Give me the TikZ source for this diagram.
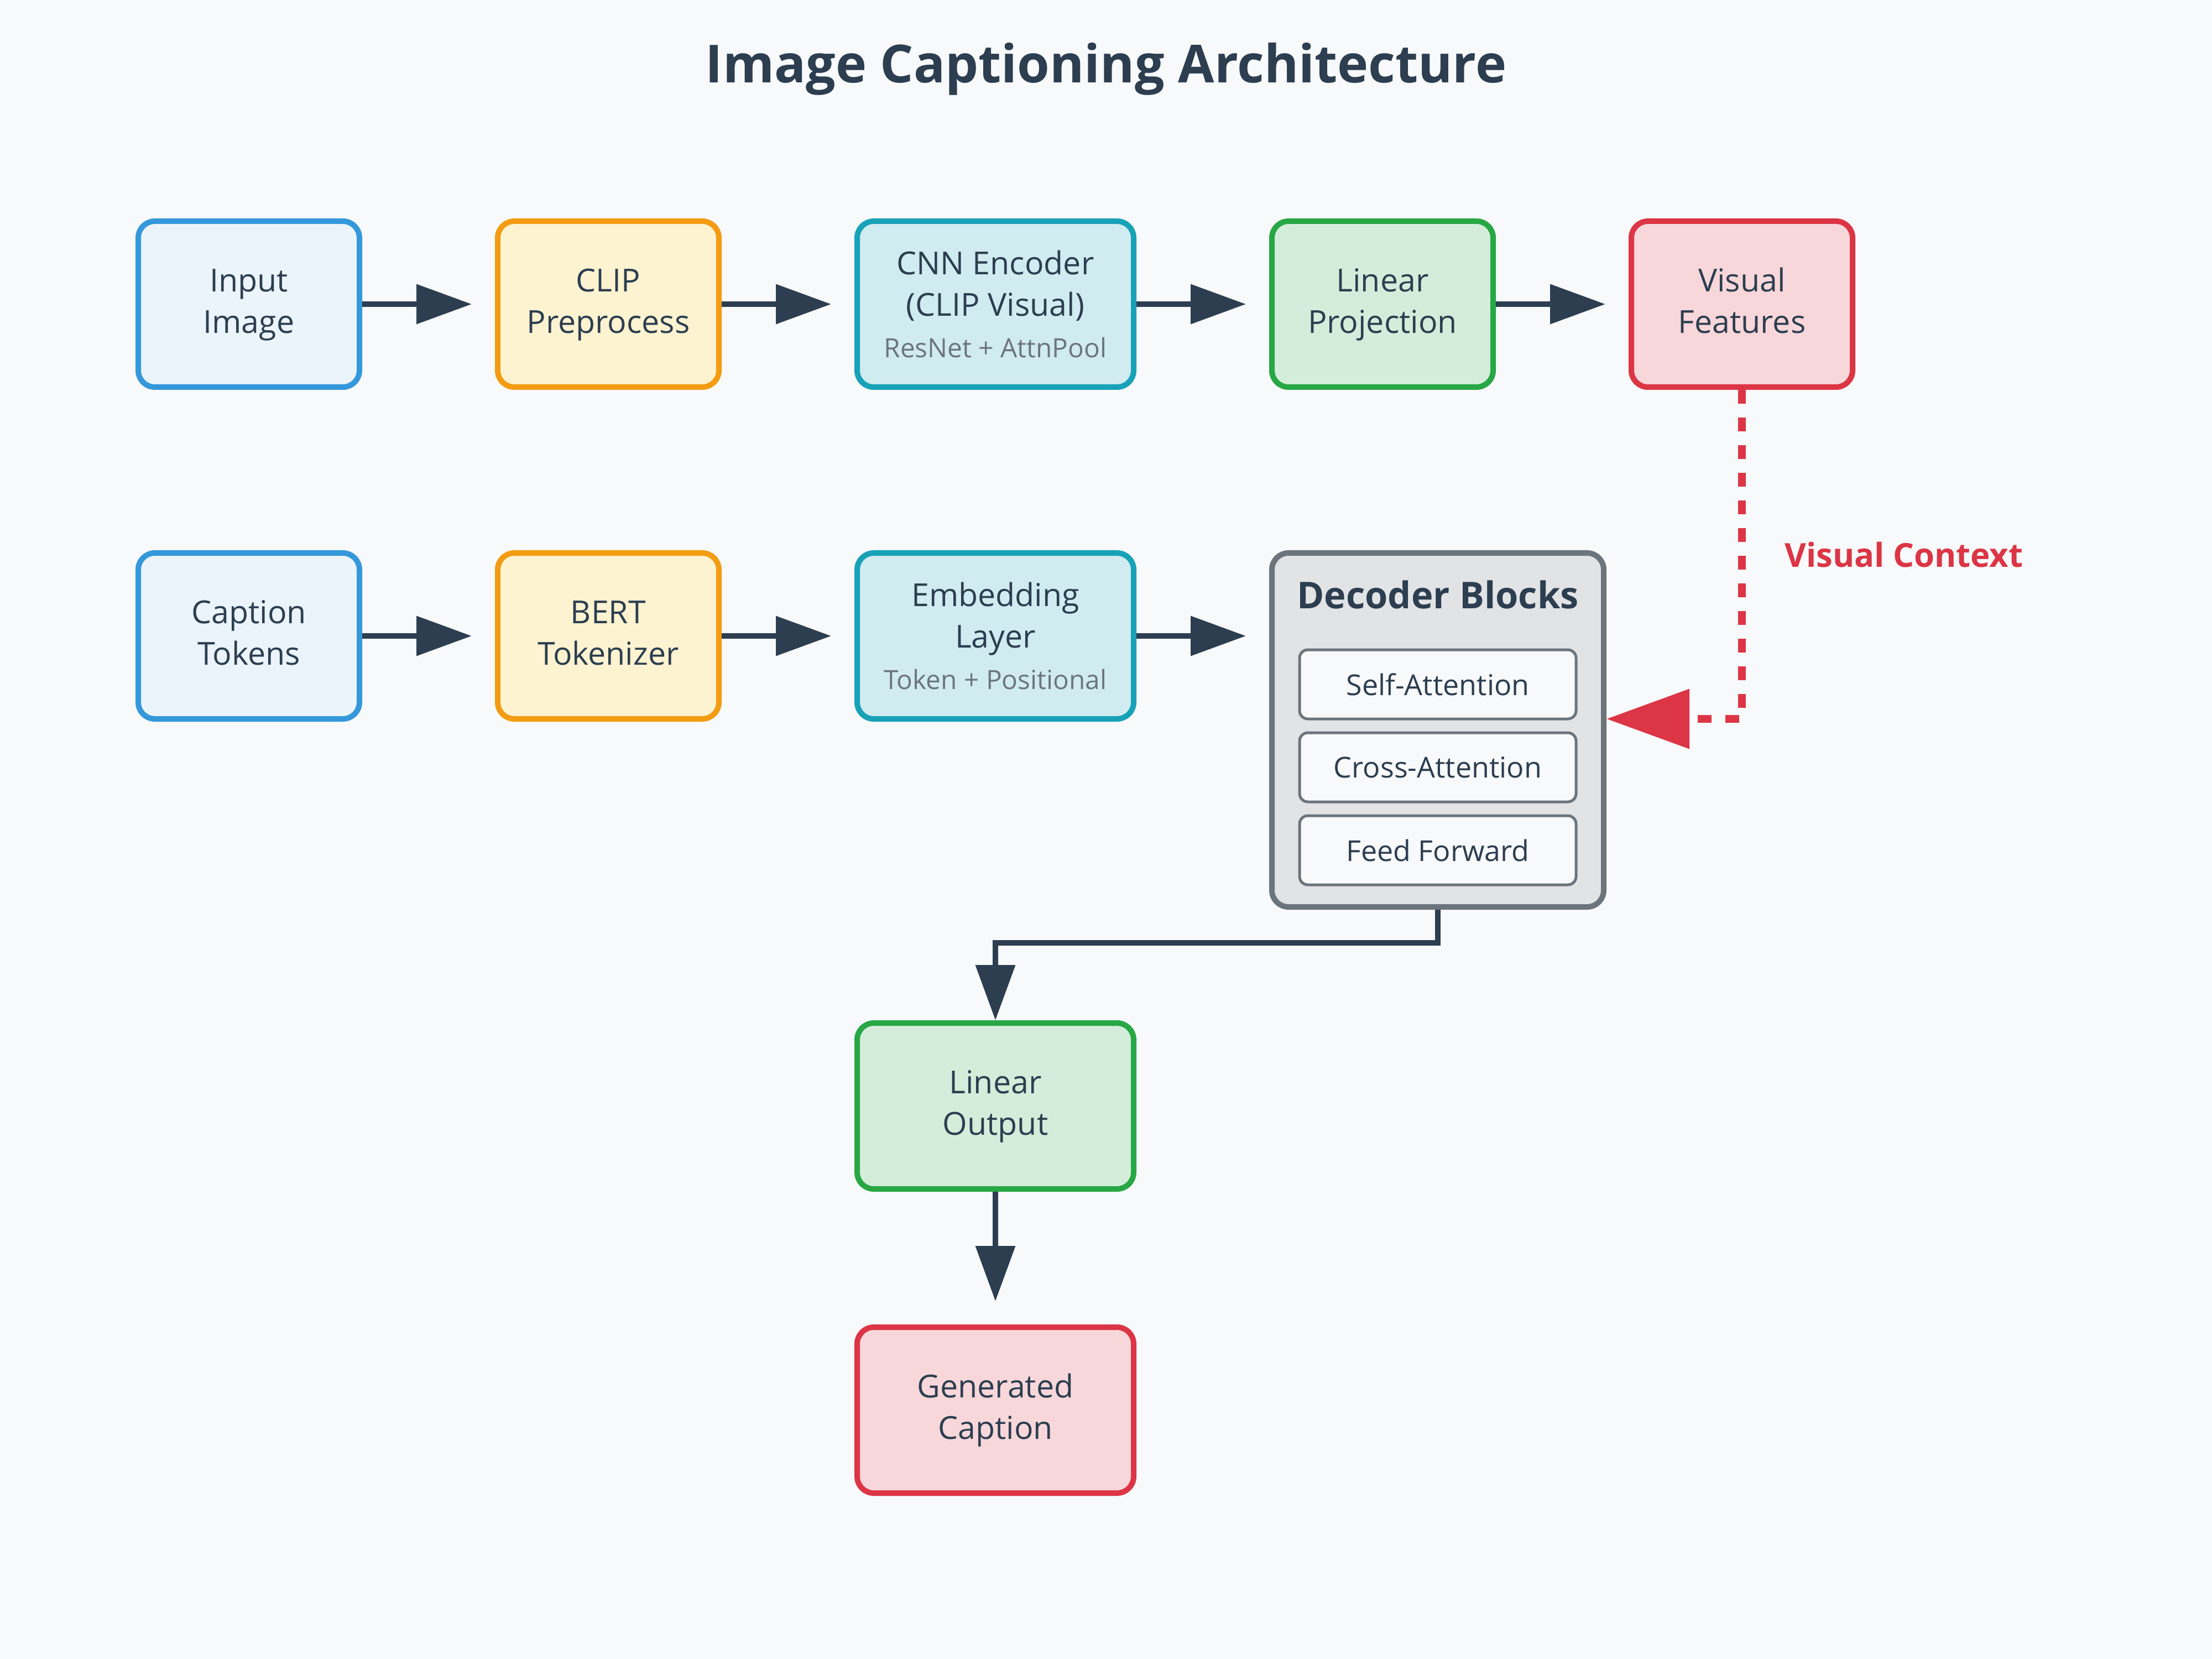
\documentclass[tikz,border=0pt]{standalone}
\usepackage{fontspec}
\setmainfont{Open Sans}
\usetikzlibrary{arrows.meta}
\definecolor{bg}{HTML}{F8F9FA}
\definecolor{txt}{HTML}{2C3E50}
\definecolor{subtxt}{HTML}{6C757D}
\definecolor{blueS}{HTML}{3498DB}\definecolor{blueF}{HTML}{EAF4FA}
\definecolor{orS}{HTML}{F39C12}\definecolor{orF}{HTML}{FEF3D0}
\definecolor{teS}{HTML}{17A2B8}\definecolor{teF}{HTML}{D1ECF1}
\definecolor{grS}{HTML}{28A745}\definecolor{grF}{HTML}{D4EDDA}
\definecolor{reS}{HTML}{DC3545}\definecolor{reF}{HTML}{F8D7DA}
\definecolor{gyS}{HTML}{6C757D}\definecolor{gyF}{HTML}{E2E3E5}
\newcommand\fmainsz{\fontsize{16.3pt}{21.34pt}\selectfont}
\newcommand\fsubsz{\fontsize{13.6pt}{20.8pt}\selectfont}
\newcommand\twoln[2]{\strut#1\\#2\strut}
\tikzset{
  box/.style={draw, rounded corners=0.3cm, line width=0.1cm, minimum width=4cm,
    minimum height=3cm, inner sep=0pt, align=center, text=txt, font=\fmainsz},
  wide/.style={minimum width=5cm},
  bluebox/.style={box, draw=blueS, fill=blueF},
  orbox/.style={box, draw=orS, fill=orF},
  tebox/.style={box, wide, draw=teS, fill=teF},
  grbox/.style={box, draw=grS, fill=grF},
  rebox/.style={box, draw=reS, fill=reF},
  inner/.style={draw=gyS, fill=bg, line width=0.05cm, rounded corners=0.15cm,
    minimum width=5cm, minimum height=1.25cm, inner sep=0pt, text=txt,
    font=\fontsize{14.8pt}{18pt}\selectfont},
  arr/.style={draw=txt, line width=0.1cm, -{Triangle[length=1cm,width=0.7cm]}},
  gap/.style={shorten >=0.42cm},
  ctxarr/.style={draw=reS, line width=0.14cm, dash pattern=on 0.25cm off 0.25cm,
    -{Triangle[length=1.5cm,width=1.05cm]}}
}
\begin{document}
\begin{tikzpicture}
\useasboundingbox (0,0) rectangle (40,-30);
\fill[bg] (0,0) rectangle (40,-30);
\node[anchor=base, text=txt, font=\fontsize{27pt}{32pt}\selectfont\bfseries] (title) at (20,-1.5) {Image Captioning Architecture};
% row 1
\node[bluebox] (inimg) at (4.5,-5.5) {\twoln{Input}{Image}};
\node[orbox] (clip) at (11,-5.5) {\twoln{CLIP}{Preprocess}};
\node[tebox] (cnn) at (18,-5.5) {CNN Encoder\\(CLIP Visual)\\{\fsubsz\color{subtxt}ResNet + AttnPool}};
\node[grbox] (linproj) at (25,-5.5) {\twoln{Linear}{Projection}};
\node[rebox] (visf) at (31.5,-5.5) {\twoln{Visual}{Features}};
% row 2
\node[bluebox] (captok) at (4.5,-11.5) {\twoln{Caption}{Tokens}};
\node[orbox] (bert) at (11,-11.5) {\twoln{BERT}{Tokenizer}};
\node[tebox] (emb) at (18,-11.5) {Embedding\\Layer\\{\fsubsz\color{subtxt}Token + Positional}};
\node[box, draw=gyS, fill=gyF, minimum width=6cm, minimum height=6.4cm] (dec) at (26,-13.2) {};
\node[anchor=base, text=txt, font=\fontsize{19pt}{22pt}\selectfont\bfseries] (dectitle) at (26,-11) {Decoder Blocks};
\node[inner] (selfatt) at (26,-12.375) {Self-Attention};
\node[inner] (crossatt) at (26,-13.875) {Cross-Attention};
\node[inner] (ffwd) at (26,-15.375) {Feed Forward};
% output
\node[grbox, wide] (linout) at (18,-20) {\twoln{Linear}{Output}};
\node[rebox, wide] (gencap) at (18,-25.5) {\twoln{Generated}{Caption}};
% arrows
\draw[arr, gap] (inimg) -- (clip);
\draw[arr, gap] (clip) -- (cnn);
\draw[arr, gap] (cnn) -- (linproj);
\draw[arr, gap] (linproj) -- (visf);
\draw[arr, gap] (captok) -- (bert);
\draw[arr, gap] (bert) -- (emb);
\draw[arr, gap] (emb) -- (dec.west |- emb.east);
\draw[arr] (dec.south) -- ++(0,-0.6) -| (linout.north);
\draw[arr, gap] (linout) -- (gencap);
\path (dec.east) ++(0,0.2) coordinate (ctxin);
\draw[ctxarr] (visf.south) |- (ctxin);
\node[anchor=base west, text=reS, font=\fontsize{17pt}{20pt}\selectfont\bfseries] (ctxlabel) at (32.15,-10.25) {Visual Context};
\end{tikzpicture}
\end{document}
